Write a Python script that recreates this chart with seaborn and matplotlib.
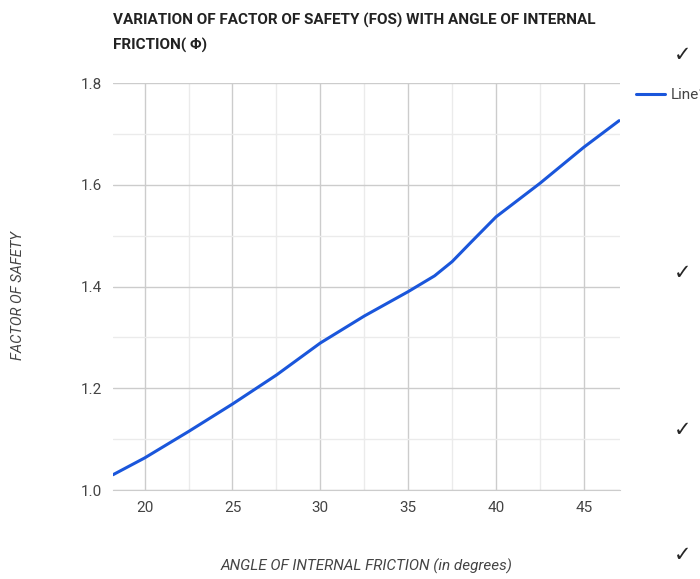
import seaborn as sns
import matplotlib.pyplot as plt
import pandas as pd
from matplotlib.ticker import MultipleLocator

# values
angle = [18.2, 20, 22.5, 25, 27.5, 30, 32.5, 35, 36.5, 37.5, 38.6, 40, 42.5, 45, 47]
fos = [1.030, 1.063, 1.115, 1.169, 1.226, 1.289, 1.342, 1.390, 1.421, 1.449, 1.488,
       1.537, 1.603, 1.674, 1.726]
df = pd.DataFrame({'angle': angle, 'fos': fos})

sns.set_style("white")
plt.rcParams['font.family'] = ['Roboto', 'DejaVu Sans']

fig = plt.figure(figsize=(7, 5.79), dpi=100)
ax = fig.add_axes([0.1614, 0.1537, 0.7243, 0.7029])

sns.lineplot(data=df, x='angle', y='fos', ax=ax, color='#1a56db', linewidth=2.2, label='Line1')

ax.set_xlim(18.2, 47.05)
ax.set_ylim(1.0, 1.8)
ax.xaxis.set_major_locator(MultipleLocator(5))
ax.xaxis.set_minor_locator(MultipleLocator(2.5))
ax.yaxis.set_major_locator(MultipleLocator(0.2))
ax.yaxis.set_minor_locator(MultipleLocator(0.1))
ax.yaxis.set_major_formatter(plt.FuncFormatter(lambda v, p: f'{v:.1f}'))
ax.grid(which='major', color='#cccccc', linewidth=1)
ax.grid(which='minor', color='#ebebeb', linewidth=1)
ax.set_axisbelow(True)
ax.tick_params(which='both', length=0, labelsize=11, colors='#444444', pad=8)
for s in ['top', 'left', 'right']:
    ax.spines[s].set_visible(False)
ax.spines['bottom'].set_color('#cccccc')

ax.set_xlabel('')
ax.set_ylabel('')
fig.text(367 / 700, 1 - 566 / 579, 'ANGLE OF INTERNAL FRICTION (in degrees)', fontsize=11,
         style='italic', color='#444444', ha='center', va='center')
fig.text(0.026, 0.49, 'FACTOR OF SAFETY', rotation=90, fontsize=10.5, style='italic',
         color='#444444', ha='center', va='center')

fig.text(113 / 700, 1 - 20 / 579, 'VARIATION OF FACTOR OF SAFETY (FOS) WITH ANGLE OF INTERNAL',
         fontsize=11, fontweight='bold', color='#222222', va='center')
fig.text(113 / 700, 1 - 45 / 579, 'FRICTION( Φ)',
         fontsize=11, fontweight='bold', color='#222222', va='center')

leg = ax.legend(loc='center left', bbox_to_anchor=(1.005, 0.97), frameon=False,
                fontsize=11, handlelength=1.9, handletextpad=0.35)
for t in leg.get_texts():
    t.set_color('#444444')

for yy in [55, 273, 430, 555]:
    fig.text(683 / 700, 1 - yy / 579, '✓', fontsize=15, ha='center', va='center',
             family=['DejaVu Sans'])

fig.savefig('out.png', dpi=100)
